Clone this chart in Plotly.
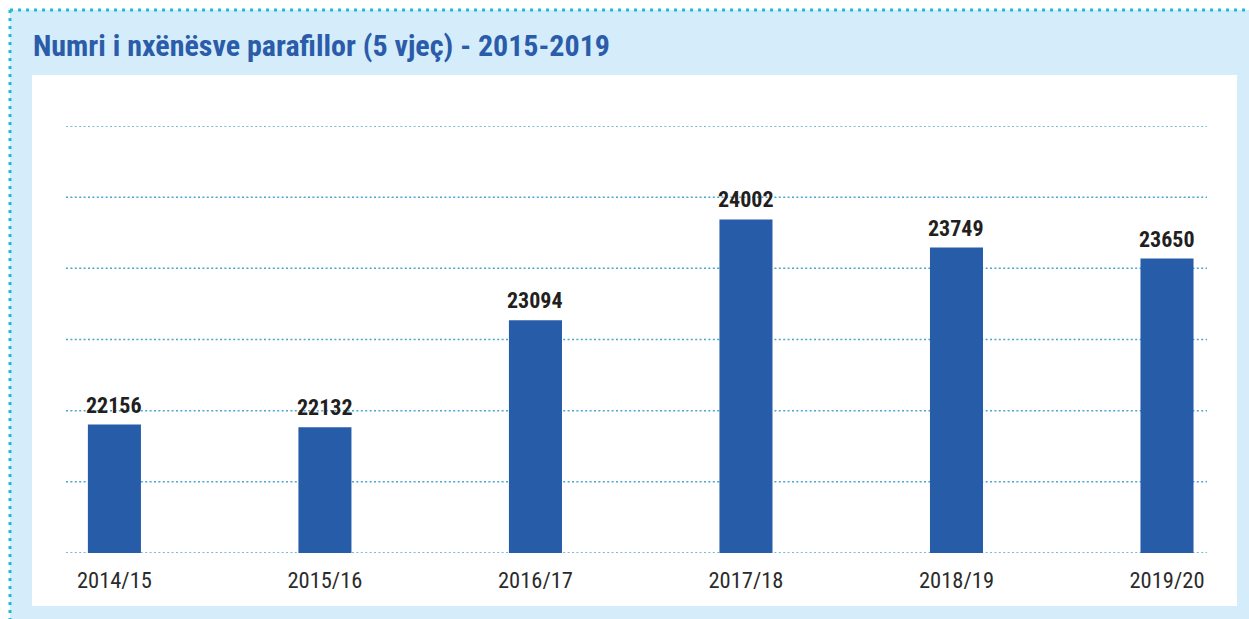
import plotly.graph_objects as go

categories = ["2014/15", "2015/16", "2016/17", "2017/18", "2018/19", "2019/20"]
values = [22156, 22132, 23094, 24002, 23749, 23650]
title_text = "Numri i nxënësve parafillor (5 vjeç) - 2015-2019"

W, H = 1249, 619
L, R, T, B = 66, 1207, 126, 553  # plot area in pixels

def px(x):
    return (x - L) / (R - L)

def py(y):
    return (B - y) / (B - T)

y0, y1 = 21000, 24843
grid = [y0 + k * (y1 - y0) / 6 for k in range(7)]

FONT = "Roboto Condensed, DejaVu Sans Condensed, sans-serif"
BAR = "#275ca9"
PANEL = "#d5edfa"
BORDER = "#19bdd6"
GRID = "#4aa6cc"

fig = go.Figure()
fig.add_trace(go.Bar(
    x=categories, y=values, width=0.252, marker_color=BAR,
    marker_line_width=0, hoverinfo="x+y",
))

annotations = []
for c, v in zip(categories, values):
    annotations.append(dict(
        x=c, y=v, xref="x", yref="y", text=f"<b>{v}</b>", showarrow=False,
        yanchor="bottom", yshift=5,
        font=dict(family=FONT, size=22, color="#231f20"),
    ))
annotations.append(dict(
    x=px(31), y=py(45), xref="paper", yref="paper", text=f"<b>{title_text}</b>",
    showarrow=False, xanchor="left", yanchor="middle",
    font=dict(family=FONT, size=30, color="#2a5caa"),
))

shapes = [
    dict(type="rect", xref="paper", yref="paper", x0=px(10), x1=px(W + 5),
         y0=py(10), y1=py(H + 5), fillcolor=PANEL, line_width=0, layer="below"),
    dict(type="rect", xref="paper", yref="paper", x0=px(32), x1=px(1237),
         y0=py(75), y1=py(606), fillcolor="white", line_width=0, layer="below"),
    dict(type="line", xref="paper", yref="paper", x0=px(10), x1=px(W),
         y0=py(10), y1=py(10), line=dict(color=BORDER, width=3, dash="3px,5px")),
    dict(type="line", xref="paper", yref="paper", x0=px(10), x1=px(10),
         y0=py(10), y1=py(H), line=dict(color=BORDER, width=3, dash="3px,5px")),
]
for g in grid:
    shapes.append(dict(type="line", xref="paper", yref="y", x0=0, x1=1, y0=g, y1=g,
                       line=dict(color=GRID, width=1.5, dash="2px,2.4px"), layer="below"))

fig.update_layout(
    width=W, height=H,
    margin=dict(l=L, r=W - R, t=T, b=H - B, pad=0),
    paper_bgcolor="white", plot_bgcolor="rgba(0,0,0,0)",
    showlegend=False,
    shapes=shapes, annotations=annotations,
)
fig.update_xaxes(
    range=[-0.23, 5.19], showgrid=False, zeroline=False, showline=False,
    ticks="", ticklabelstandoff=11,
    tickfont=dict(family=FONT, size=22.5, color="#2b2b2b"),
    fixedrange=True,
)
fig.update_yaxes(
    range=[y0, y1], showticklabels=False, showgrid=False,
    zeroline=False, showline=False, fixedrange=True,
)

fig.write_html("out.html", config={"displayModeBar": False},
               post_script="document.body.style.margin='0';")
